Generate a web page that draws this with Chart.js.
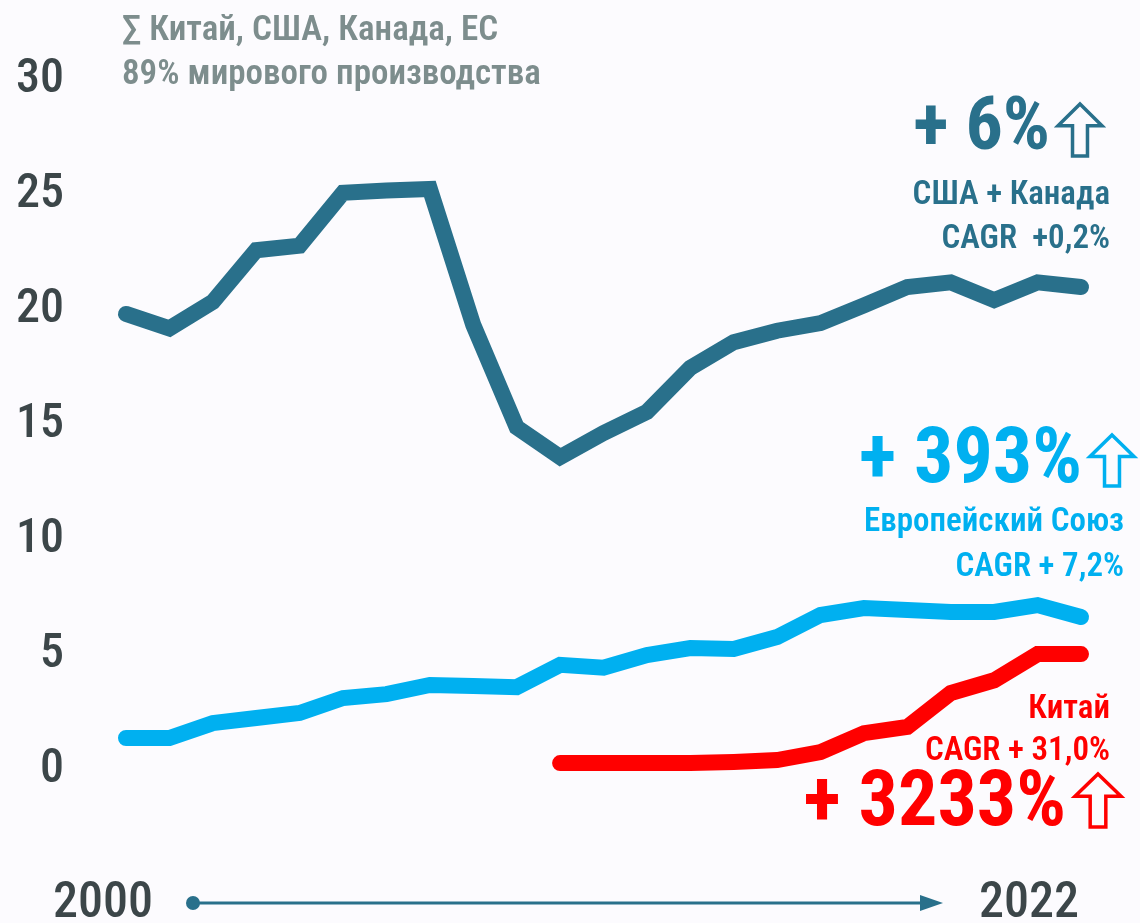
<!DOCTYPE html>
<html>
<head>
<meta charset="utf-8">
<script src="https://cdn.jsdelivr.net/npm/chart.js@4"></script>
<style>
html, body { margin:0; padding:0; background:#fcfbfe; }
#wrap { width:1140px; height:923px; }
</style>
</head>
<body>
<div id="wrap"><canvas id="canvas" width="1140" height="923"></canvas></div>
<script>
var years = ['2000','2001','2002','2003','2004','2005','2006','2007','2008','2009','2010','2011',
	'2012','2013','2014','2015','2016','2017','2018','2019','2020','2021','2022'];
var usCanada = [19.83, 19.2, 20.35, 22.6, 22.8, 25.1, 25.2, 25.26, 19.35, 14.9, 13.6, 14.65,
	15.57, 17.48, 18.6, 19.1, 19.43, 20.2, 21.0, 21.2, 20.43, 21.2, 21.0];
var eu = [1.39, 1.39, 2.04, 2.26, 2.48, 3.13, 3.3, 3.7, 3.65, 3.6, 4.57, 4.45,
	5.0, 5.3, 5.26, 5.78, 6.74, 7.04, 6.96, 6.87, 6.87, 7.17, 6.65];
var china = [null, null, null, null, null, null, null, null, null, null, 0.3, 0.3,
	0.3, 0.3, 0.35, 0.43, 0.78, 1.6, 1.87, 3.35, 3.9, 5.04, 5.04];
var yTicks = [0, 5, 10, 15, 20, 25, 30];

var FONT = "'Liberation Sans Narrow', 'Roboto Condensed', 'DejaVu Sans Condensed', sans-serif";
var C_US = '#29708b', C_EU = '#00b0f0', C_CN = '#ff0000', C_GRAY = '#7d8d8d', C_DARK = '#3c4649';

// hollow up arrow like ⇧
function upArrow(ctx, cx, top, bottom, w, color){
	var headH = (bottom - top) * 0.42;
	var sw = w * 0.34;
	ctx.save();
	ctx.strokeStyle = color;
	ctx.lineWidth = 3.5;
	ctx.lineJoin = 'miter';
	ctx.beginPath();
	ctx.moveTo(cx, top);
	ctx.lineTo(cx + w/2, top + headH);
	ctx.lineTo(cx + sw/2, top + headH);
	ctx.lineTo(cx + sw/2, bottom);
	ctx.lineTo(cx - sw/2, bottom);
	ctx.lineTo(cx - sw/2, top + headH);
	ctx.lineTo(cx - w/2, top + headH);
	ctx.closePath();
	ctx.stroke();
	ctx.restore();
}

function txt(ctx, s, x, y, size, color, weight, align){
	ctx.font = weight + ' ' + size + 'px ' + FONT;
	ctx.fillStyle = color;
	ctx.textAlign = align || 'right';
	ctx.textBaseline = 'middle';
	ctx.fillText(s, x, y);
}

var bgPlugin = {
	id: 'bg',
	beforeDraw: function(chart){
		var ctx = chart.ctx;
		ctx.save();
		ctx.fillStyle = '#fcfbfe';
		ctx.fillRect(0, 0, chart.width, chart.height);
		ctx.restore();
	}
};

var notesPlugin = {
	id: 'notes',
	afterDraw: function(chart){
		var ctx = chart.ctx;
		var xs = chart.scales.x;
		ctx.save();
		// title
		txt(ctx, '∑ Китай, США, Канада, ЕС', 122, 31, 35, C_GRAY, 600, 'left');
		txt(ctx, '89% мирового производства', 122, 75, 35, C_GRAY, 600, 'left');

		// US + Canada
		txt(ctx, '+ 6%', 1050, 130, 74, C_US, 'bold');
		upArrow(ctx, 1080, 104, 156, 44, C_US);
		txt(ctx, 'США + Канада', 1110, 196, 33, C_US, 600);
		txt(ctx, 'CAGR  +0,2%', 1110, 240, 33, C_US, 600);

		// EU
		txt(ctx, '+ 393%', 1082, 462, 78, C_EU, 'bold');
		upArrow(ctx, 1112, 435, 486, 44, C_EU);
		txt(ctx, 'Европейский Союз', 1124, 523, 33, C_EU, 600);
		txt(ctx, 'CAGR + 7,2%', 1124, 568, 33, C_EU, 600);

		// China
		txt(ctx, 'Китай', 1110, 710, 33, C_CN, 600);
		txt(ctx, 'CAGR + 31,0%', 1110, 752, 33, C_CN, 600);
		txt(ctx, '+ 3233%', 1066, 805, 78, C_CN, 'bold');
		upArrow(ctx, 1098, 774, 827, 46, C_CN);

		// time arrow at the bottom
		var x0 = xs.getPixelForValue(0), x1 = xs.getPixelForValue(years.length - 1);
		txt(ctx, years[0], x0 - 23, 904, 50, C_DARK, 500, 'center');
		txt(ctx, years[years.length - 1], x1 - 52, 904, 50, C_DARK, 500, 'center');
		ctx.strokeStyle = C_US;
		ctx.fillStyle = C_US;
		ctx.lineWidth = 3;
		ctx.beginPath();
		ctx.moveTo(193, 903);
		ctx.lineTo(925, 903);
		ctx.stroke();
		ctx.beginPath();
		ctx.arc(193, 903, 7, 0, Math.PI * 2);
		ctx.fill();
		ctx.beginPath();
		ctx.moveTo(943, 903);
		ctx.lineTo(920, 895);
		ctx.lineTo(920, 911);
		ctx.closePath();
		ctx.fill();
		ctx.restore();
	}
};

function series(data, color){
	return {
		data: data,
		borderColor: color,
		backgroundColor: color,
		borderWidth: 16,
		borderCapStyle: 'round',
		borderJoinStyle: 'miter',
		pointRadius: 0,
		pointHoverRadius: 0,
		tension: 0,
		spanGaps: false,
		clip: false
	};
}

var ctx = document.getElementById('canvas').getContext('2d');
var chart = new Chart(ctx, {
	type: 'line',
	data: {
		labels: years,
		datasets: [series(china, C_CN), series(eu, C_EU), series(usCanada, C_US)]
	},
	options: {
		responsive: false,
		animation: false,
		events: [],
		layout: { padding: { top: 80, right: 59, bottom: 153, left: 0 } },
		plugins: { legend: { display: false }, tooltip: { enabled: false } },
		scales: {
			x: {
				display: false,
				offset: false
			},
			y: {
				min: 0,
				max: 30,
				afterFit: function(scale){
					scale.width = 126;
					// the big tick padding must not push the plot area down
					scale.paddingTop = 0;
					scale.paddingBottom = 0;
				},
				afterBuildTicks: function(scale){
					scale.ticks = yTicks.map(function(v){ return { value: v }; });
				},
				grid: { display: false, drawTicks: false },
				border: { display: false },
				ticks: {
					padding: 62,
					color: C_DARK,
					font: { family: FONT, size: 48, weight: 500 }
				}
			}
		}
	},
	plugins: [bgPlugin, notesPlugin]
});
</script>
</body>
</html>
